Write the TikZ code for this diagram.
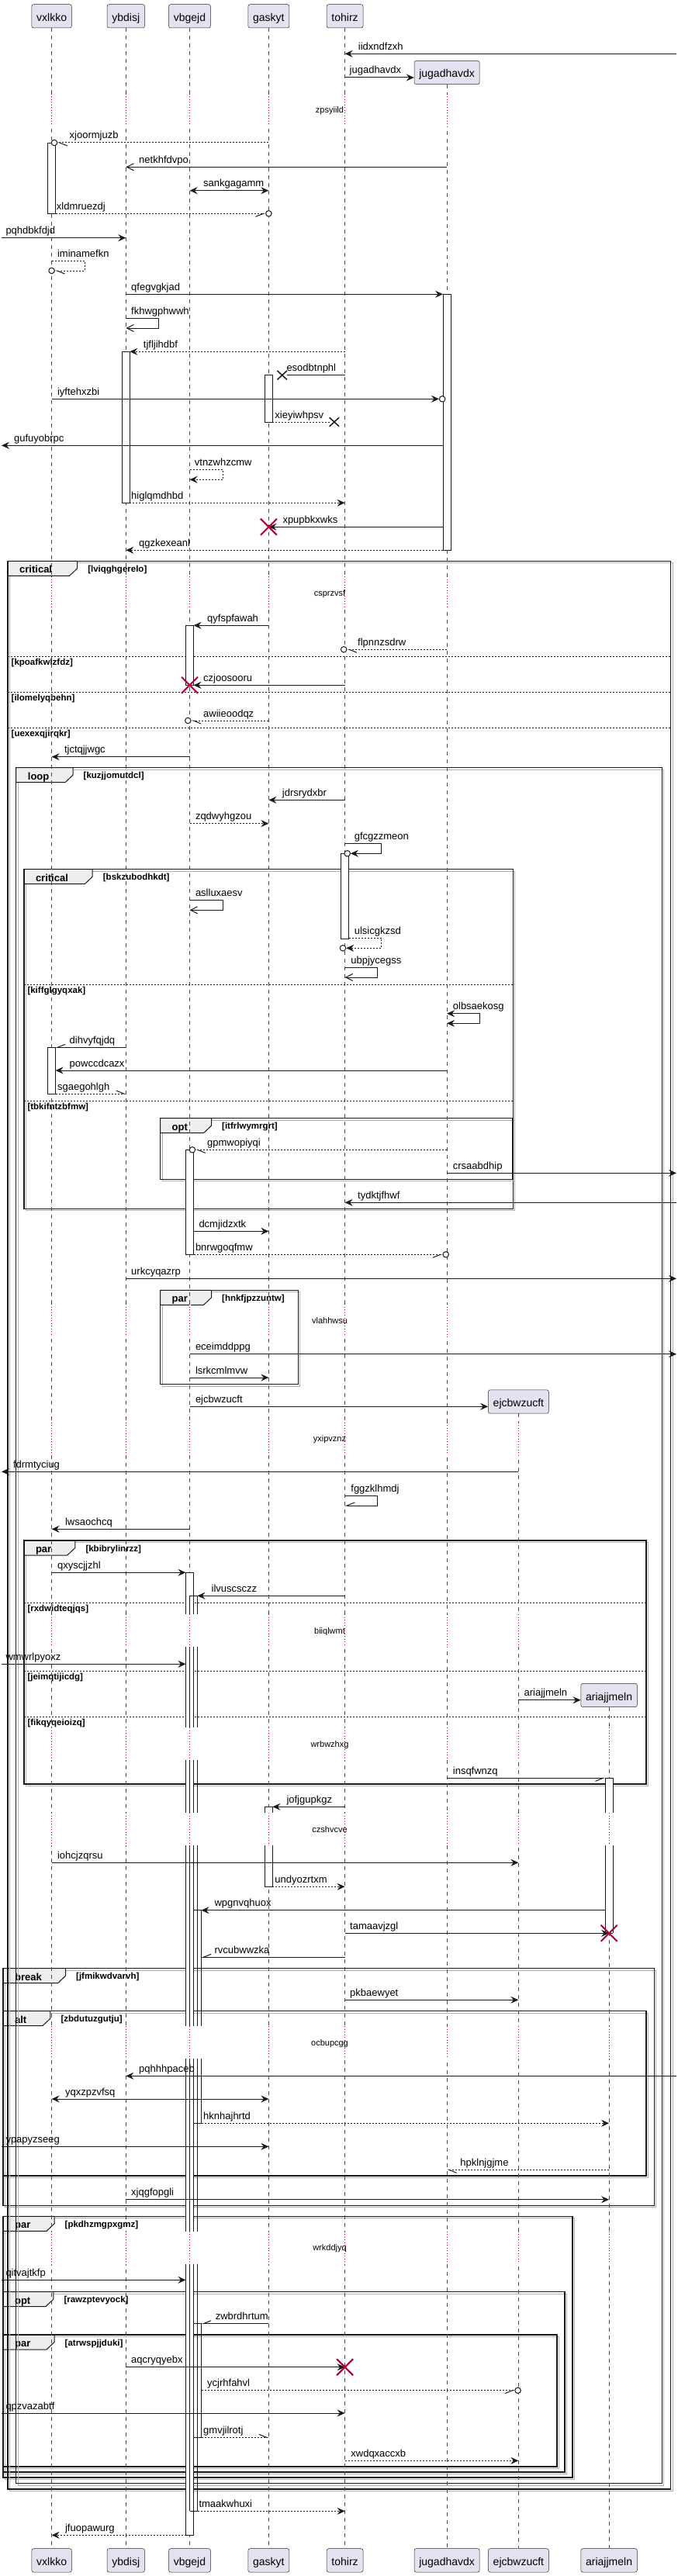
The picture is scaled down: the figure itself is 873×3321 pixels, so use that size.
\documentclass[tikz,border=0pt]{standalone}
\usepackage{fontspec}
\setmainfont{Liberation Sans}
\usetikzlibrary{positioning, calc, arrows.meta, shapes.misc}
\definecolor{partfill}{RGB}{226,226,240}
\definecolor{delayred}{RGB}{168,0,54}
\definecolor{tabfill}{RGB}{238,238,238}

\newcommand\seqmsg[6][]{%
  \draw[msgl,#1] (#2 |- 0,#4) -- (#3 |- 0,#4);
  \node[lbl] (t-#6) at (#5,#4-5) {#6};}
\newcommand\seqgroup[8]{%
  \draw[gshad] (#1+2.5,#2+2.5) rectangle (#3+2.5,#4+2.5);
  \filldraw[gtab] (#1,#2) -- (#5,#2) -- (#5,#2+9.5) -- (#5-10,#2+19) -- (#1,#2+19) -- cycle;
  \draw[gbox] (#1,#2) rectangle (#3,#4);
  \node[gkey] (#8) at (#1+15,#2+15.5) {#6};
  \node[gcond] (#8c) at (#5+13.5,#2+14) {[#7]};}
\newcommand\seqsep[5]{%
  \draw[gsepl] (#1,#3) -- (#2,#3);
  \node[gcond] (#5) at (#1+4.5,#3+11) {[#4]};}

\begin{document}
\begin{tikzpicture}[x=1pt, y=-1pt,
  part/.style={draw=black!85, fill=partfill, rounded corners=2.5pt, line width=0.5pt,
    minimum height=30.3pt, inner xsep=6.3pt, text height=14pt, text depth=1pt,
    font=\fontsize{14}{16}\selectfont},
  life/.style={black!70, line width=0.6pt, dash pattern=on 5pt off 5pt},
  dline/.style={delayred, line width=1pt, dash pattern=on 1pt off 2.5pt},
  act/.style={draw=black!90, fill=white, line width=0.8pt},
  actl/.style={black!90, line width=0.8pt},
  msgl/.style={black!90, line width=1pt},
  dmsg/.style={dash pattern=on 2pt off 2pt},
  fh/.style={-{Stealth[length=10pt,width=9pt,inset=3.5pt]}},
  fhb/.style={{Stealth[length=10pt,width=9pt,inset=3.5pt]}-{Stealth[length=10pt,width=9pt,inset=3.5pt]}},
  oh/.style={-{Straight Barb[length=9pt,width=9pt]}},
  hl/.style={-{Straight Barb[left,length=10pt,width=8pt]}},
  hr/.style={-{Straight Barb[right,length=10pt,width=8pt]}},
  lbl/.style={anchor=base west, inner sep=0pt, font=\fontsize{13}{15}\selectfont},
  dtext/.style={inner sep=0pt, text height=8pt, text depth=2pt, font=\fontsize{11}{13}\selectfont},
  circ/.style={circle, draw=black!90, fill=white, line width=1pt, minimum size=7.5pt, inner sep=0pt},
  lost/.style={cross out, draw=black!90, line width=1.5pt, minimum width=11pt, minimum height=10pt, inner sep=0pt},
  kill/.style={cross out, draw=delayred, line width=2pt, minimum size=19pt, inner sep=0pt},
  gbox/.style={black!90, line width=1.5pt},
  gshad/.style={black!30, line width=1pt},
  gtab/.style={draw=black!90, fill=tabfill, line width=1pt},
  gkey/.style={anchor=base west, inner sep=0pt, font=\bfseries\fontsize{13}{15}\selectfont},
  gcond/.style={anchor=base west, inner sep=0pt, font=\bfseries\fontsize{11.5}{13}\selectfont},
  gsepl/.style={black!90, line width=1pt, dash pattern=on 2pt off 2pt}]
\useasboundingbox (0,0) rectangle (873,3321);

% groups
\seqgroup{3.9}{2537.7}{843.3}{2843.3}{84.5}{break}{jfmikwdvarvh}{g-break}
\seqgroup{3.9}{2592.7}{833.2}{2805}{64.9}{alt}{zbdutuzgutju}{g-alt}
\seqgroup{3.9}{2857.3}{738.1}{3194}{70}{par}{pkdhzmgpxgmz}{g-par3}
\seqgroup{3.9}{2954.7}{728}{3187}{68.8}{opt}{rawzptevyock}{g-opt2}
\seqgroup{3.9}{3010}{718}{3180}{70}{par}{atrwspjjduki}{g-par4}
\seqgroup{10}{723.3}{864.6}{3209}{99.6}{critical}{lviqghgerelo}{g-crit}
\seqsep{10}{864.6}{846.3}{kpoafkwlzfdz}{s-kpoafkwlzfdz}
\seqsep{10}{864.6}{892.3}{ilomelyqbehn}{s-ilomelyqbehn}
\seqsep{10}{864.6}{938.3}{uexexqjirqkr}{s-uexexqjirqkr}
\seqgroup{20.7}{989.7}{853.4}{3201.7}{94}{loop}{kuzjjomutdcl}{g-loop}
\seqgroup{30.8}{1120.7}{661.4}{1558.3}{119.2}{critical}{bskzubodhkdt}{g-crit2}
\seqsep{30.8}{661.4}{1269.3}{kiffglgyqxak}{s-kiffglgyqxak}
\seqsep{30.8}{661.4}{1419.3}{tbkifntzbfmw}{s-tbkifntzbfmw}
\seqgroup{206.5}{1441.7}{660.9}{1520.3}{272.5}{opt}{itfrlwymrgrt}{g-opt}
\seqgroup{206.5}{1663.3}{384.4}{1784.7}{272.5}{par}{hnkfjpzzuntw}{g-par}
\seqgroup{30.8}{1986}{833.2}{2300}{96.8}{par}{kbibrylinrzz}{g-par2}
\seqsep{30.8}{833.2}{2066.3}{rxdwidteqjqs}{s-rxdwidteqjqs}
\seqsep{30.8}{833.2}{2154.3}{jeimqtijicdg}{s-jeimqtijicdg}
\seqsep{30.8}{833.2}{2213.3}{fikqyqeioizq}{s-fikqyqeioizq}

% participants
\node[part] (vxlkko) at (66.6,20.85) {vxlkko};
\node[part] (ybdisj) at (162.3,20.85) {ybdisj};
\node[part] (vbgejd) at (244.5,20.85) {vbgejd};
\node[part] (gaskyt) at (346.4,20.85) {gaskyt};
\node[part] (tohirz) at (444.6,20.85) {tohirz};
\node[part] (jugadhavdx) at (576.1,93.5) {jugadhavdx};
\node[part] (ejcbwzucft) at (668.4,1807) {ejcbwzucft};
\node[part] (ariajjmeln) at (785.1,2185.5) {ariajjmeln};
\node[part] (vxlkko2) at (66.6,3300.85) {vxlkko};
\node[part] (ybdisj2) at (162.3,3300.85) {ybdisj};
\node[part] (vbgejd2) at (244.5,3300.85) {vbgejd};
\node[part] (gaskyt2) at (346.4,3300.85) {gaskyt};
\node[part] (tohirz2) at (444.6,3300.85) {tohirz};
\node[part] (jugadhavdx2) at (576.1,3300.85) {jugadhavdx};
\node[part] (ejcbwzucft2) at (668.4,3300.85) {ejcbwzucft};
\node[part] (ariajjmeln2) at (785.1,3300.85) {ariajjmeln};

\coordinate (lft) at (2,0);
\coordinate (rgt) at (872,0);
\coordinate (vxlkko-r) at (71.6,0);
\coordinate (ybdisj-r) at (167.3,0);
\coordinate (vbgejd-l) at (239.5,0);
\coordinate (vbgejd-r) at (249.5,0);
\coordinate (vbgejd-r2) at (254.5,0);
\coordinate (vbgejd-r3) at (259.5,0);
\coordinate (gaskyt-r) at (351.4,0);
\coordinate (tohirz-r) at (449.6,0);
\coordinate (jugadhavdx-l) at (571.1,0);
\coordinate (ariajjmeln-l) at (780.1,0);

% lifelines and delays
\foreach \p in {vxlkko,ybdisj,vbgejd,gaskyt,tohirz,jugadhavdx,ejcbwzucft,ariajjmeln}
  \draw[life] (\p.south) -- (\p2.north);
\foreach \d/\t/\ps in {
    120.7/zpsyiild/{vxlkko,ybdisj,vbgejd,gaskyt,tohirz,jugadhavdx},
    743/csprzvsf/{vxlkko,ybdisj,vbgejd,gaskyt,tohirz,jugadhavdx},
    1681.3/vlahhwsu/{vxlkko,ybdisj,vbgejd,gaskyt,tohirz,jugadhavdx},
    1833.7/yxipvznz/{vxlkko,ybdisj,vbgejd,gaskyt,tohirz,jugadhavdx,ejcbwzucft},
    2081.3/biiqlwmt/{vxlkko,ybdisj,vbgejd,gaskyt,tohirz,jugadhavdx,ejcbwzucft},
    2227.3/wrbwzhxg/{vxlkko,ybdisj,vbgejd,gaskyt,tohirz,jugadhavdx,ejcbwzucft,ariajjmeln},
    2337.3/czshvcve/{vxlkko,ybdisj,vbgejd,gaskyt,tohirz,jugadhavdx,ejcbwzucft,ariajjmeln},
    2612.3/ocbupcgg/{vxlkko,ybdisj,vbgejd,gaskyt,tohirz,jugadhavdx,ejcbwzucft,ariajjmeln},
    2876.5/wrkddjyq/{vxlkko,ybdisj,vbgejd,gaskyt,tohirz,jugadhavdx,ejcbwzucft,ariajjmeln}} {
  \foreach \p in \ps {
    \draw[white, line width=2pt] (\p |- 0,\d) -- (\p |- 0,\d+42);
    \draw[dline] (\p |- 0,\d) -- (\p |- 0,\d+42);
  }
  \node[dtext] (d-\t) at (425,\d+22) {\t};
}

% activations
\filldraw[act] (61.6,184) rectangle (71.6,275.3);
\filldraw[act] (571.1,379.3) rectangle (581.1,709.3);
\filldraw[act] (157.3,453.3) rectangle (167.3,648.3);
\filldraw[act] (341.4,483.7) rectangle (351.4,544);
\filldraw[act] (239.5,806.3) rectangle (249.5,883.3);
\filldraw[act] (439.6,1100.3) rectangle (449.6,1210);
\filldraw[act] (61.6,1350.3) rectangle (71.6,1410);
\filldraw[act] (239.5,1482.3) rectangle (249.5,1617.3);
\foreach \a/\b in {2027.3/2081.3, 2123.3/2227.3, 2269.3/2337.3, 2379.3/2612.3, 2654.3/2876.5, 2918.5/3268.3}
  \fill[white] (239.5,\a) rectangle (249.5,\b);
\fill[white] (341.4,2329.3) rectangle (351.4,2337.3) (341.4,2379.3) rectangle (351.4,2432.3);
\fill[white] (780.1,2292.3) rectangle (790.1,2337.3) (780.1,2379.3) rectangle (790.1,2492.3);
\foreach \a/\b in {2027.3/2081.3, 2123.3/2227.3, 2269.3/2337.3, 2379.3/2612.3, 2654.3/2876.5, 2918.5/3268.3}
  \draw[actl] (239.5,\a) -- (239.5,\b) (249.5,\a) -- (249.5,\b);
\foreach \a/\b in {2057.3/2081.3, 2123.3/2227.3, 2269.3/2337.3, 2379.3/2612.3, 2654.3/2876.5, 2918.5/3237.3}
  \draw[actl] (244.5,\a) -- (244.5,\b) (254.5,\a) -- (254.5,\b);
\foreach \a/\b in {2462.7/2612.3, 2654.3/2737.3, 2995.7/3142.3}
  \draw[actl] (249.5,\a) -- (249.5,\b) (259.5,\a) -- (259.5,\b);
\foreach \a/\b in {2329.3/2337.3, 2379.3/2432.3}
  \draw[actl] (341.4,\a) -- (341.4,\b) (351.4,\a) -- (351.4,\b);
\foreach \a/\b in {2292.3/2337.3, 2379.3/2492.3}
  \draw[actl] (780.1,\a) -- (780.1,\b) (790.1,\a) -- (790.1,\b);
\draw[actl] (239.5,2027.3) -- (249.5,2027.3) (239.5,3268.3) -- (249.5,3268.3)
  (244.5,2057.3) -- (254.5,2057.3) (244.5,3237.3) -- (254.5,3237.3)
  (249.5,2462.7) -- (259.5,2462.7) (249.5,2737.3) -- (259.5,2737.3)
  (249.5,2995.7) -- (259.5,2995.7) (249.5,3142.3) -- (259.5,3142.3)
  (341.4,2329.3) -- (351.4,2329.3) (341.4,2432.3) -- (351.4,2432.3)
  (780.1,2292.3) -- (790.1,2292.3) (780.1,2492.3) -- (790.1,2492.3);

% circle and cross ends
\node[circ] (o-xjoormjuzb) at (70,184) {};
\node[circ] (o-xldmruezdj) at (346.4,275.3) {};
\node[circ] (o-iminamefkn) at (66.6,349) {};
\node[circ] (o-iyftehxzbi) at (570.2,514.3) {};
\node[circ] (o-flpnnzsdrw) at (443.2,837.3) {};
\node[circ] (o-awiieoodqz) at (242.3,929) {};
\node[circ] (o-gfcgzzmeon) at (447.7,1100.3) {};
\node[circ] (o-ulsicgkzsd) at (442,1222.3) {};
\node[circ] (o-gpmwopiyqi) at (247.9,1482.3) {};
\node[circ] (o-bnrwgoqfmw) at (574.7,1617.3) {};
\node[circ] (o-ycjrhfahvl) at (667.6,3081.7) {};
\node[lost] (x-esodbtnphl) at (363.7,483.7) {};
\node[lost] (x-xieyiwhpsv) at (430.9,544) {};

% messages
\seqmsg[fh]{rgt}{tohirz}{69.3}{461.7}{iidxndfzxh}
\seqmsg[fh]{tohirz}{jugadhavdx.west}{100}{450.5}{jugadhavdx}
\draw[msgl,dmsg,hl] (gaskyt |- o-xjoormjuzb) -- (o-xjoormjuzb);
\node[lbl] (t-xjoormjuzb) at (89.5,179) {xjoormjuzb};
\seqmsg[oh]{jugadhavdx}{ybdisj}{215.3}{179}{netkhfdvpo}
\seqmsg[fhb]{vbgejd}{gaskyt}{245.7}{262}{sankgagamm}
\draw[msgl,dmsg,hr] (vxlkko-r |- o-xldmruezdj) -- (o-xldmruezdj);
\node[lbl] (t-xldmruezdj) at (72.7,270.3) {xldmruezdj};
\seqmsg[fh]{lft}{ybdisj}{306.7}{7.3}{pqhdbkfdjd}
\draw[msgl,dmsg,hl] (vxlkko |- 0,336.3) -| (109,349) -- (o-iminamefkn);
\node[lbl] (t-iminamefkn) at (73.9,331.3) {iminamefkn};
\seqmsg[fh]{ybdisj}{jugadhavdx-l}{379.3}{169}{qfegvgkjad}
\draw[msgl,oh] (ybdisj |- 0,410.3) -| (204.8,423) -- (ybdisj |- 0,423);
\node[lbl] (t-fkhwgphwwh) at (169,405.3) {fkhwgphwwh};
\seqmsg[dmsg,fh]{tohirz}{ybdisj-r}{453.3}{184.7}{tjfljihdbf}
\draw[msgl] (tohirz |- x-esodbtnphl) -- (x-esodbtnphl);
\node[lbl] (t-esodbtnphl) at (369.3,478.7) {esodbtnphl};
\draw[msgl,fh] (vxlkko |- o-iyftehxzbi) -- (o-iyftehxzbi);
\node[lbl] (t-iyftehxzbi) at (73.9,509.3) {iyftehxzbi};
\draw[msgl,dmsg] (gaskyt-r |- x-xieyiwhpsv) -- (x-xieyiwhpsv);
\node[lbl] (t-xieyiwhpsv) at (354.2,539) {xieyiwhpsv};
\seqmsg[fh]{jugadhavdx-l}{lft}{574.3}{17.9}{gufuyobrpc}
\draw[msgl,dmsg,fh] (vbgejd |- 0,605.3) -| (287,618.3) -- (vbgejd |- 0,618.3);
\node[lbl] (t-vtnzwhzcmw) at (250.7,600.3) {vtnzwhzcmw};
\seqmsg[dmsg,fh]{ybdisj-r}{tohirz}{648.3}{169}{higlqmdhbd}
\seqmsg[fh]{jugadhavdx-l}{gaskyt}{679.3}{364.3}{xpupbkxwks}
\node[kill] (k-xpupbkxwks) at (gaskyt |- 0,679.3) {};
\seqmsg[dmsg,fh]{jugadhavdx-l}{ybdisj}{709.3}{179}{qgzkexeanl}
\seqmsg[fh]{gaskyt}{vbgejd-r}{806.3}{267}{qyfspfawah}
\draw[msgl,dmsg,hl] (jugadhavdx |- o-flpnnzsdrw) -- (o-flpnnzsdrw);
\node[lbl] (t-flpnnzsdrw) at (461,832.3) {flpnnzsdrw};
\seqmsg[fh]{tohirz}{vbgejd-r}{883.3}{262}{czjoosooru}
\node[kill] (k-czjoosooru) at (vbgejd |- 0,883.3) {};
\draw[msgl,dmsg,hl] (gaskyt |- o-awiieoodqz) -- (o-awiieoodqz);
\node[lbl] (t-awiieoodqz) at (262,924) {awiieoodqz};
\seqmsg[fh]{vbgejd}{vxlkko}{975.7}{82.8}{tjctqjjwgc}
\seqmsg[fh]{tohirz}{gaskyt}{1031.3}{363.7}{jdrsrydxbr}
\seqmsg[dmsg,fh]{vbgejd}{gaskyt}{1061.7}{251.8}{zqdwyhgzou}
\draw[msgl,fh] (tohirz |- 0,1087.7) -| (491.9,1100.3) -- (o-gfcgzzmeon);
\node[lbl] (t-gfcgzzmeon) at (456.6,1082.7) {gfcgzzmeon};
\draw[msgl,oh] (vbgejd |- 0,1160.7) -| (287,1173.3) -- (vbgejd |- 0,1173.3);
\node[lbl] (t-aslluxaesv) at (251.8,1155.7) {aslluxaesv};
\draw[msgl,dmsg,fh] (tohirz-r |- 0,1209.3) -| (491.9,1222.3) -- (o-ulsicgkzsd);
\node[lbl] (t-ulsicgkzsd) at (456.6,1204.3) {ulsicgkzsd};
\draw[msgl,oh] (tohirz |- 0,1247.3) -| (486.8,1260) -- (tohirz |- 0,1260);
\node[lbl] (t-ubpjycegss) at (452.2,1242.3) {ubpjycegss};
\draw[msgl,fhb] (jugadhavdx |- 0,1306.7) -| (618.4,1319.3) -- (jugadhavdx |- 0,1319.3);
\node[lbl] (t-olbsaekosg) at (583.7,1301.7) {olbsaekosg};
\seqmsg[hr]{ybdisj}{vxlkko-r}{1350.3}{89.5}{dihvyfqjdq}
\seqmsg[fh]{jugadhavdx}{vxlkko-r}{1380}{89.5}{powccdcazx}
\seqmsg[dmsg,hl]{vxlkko-r}{ybdisj}{1410}{73.9}{sgaegohlgh}
\draw[msgl,dmsg,hl] (jugadhavdx |- o-gpmwopiyqi) -- (o-gpmwopiyqi);
\node[lbl] (t-gpmwopiyqi) at (267,1477.3) {gpmwopiyqi};
\seqmsg[fh]{jugadhavdx}{rgt}{1512.3}{583.7}{crsaabdhip}
\seqmsg[fh]{rgt}{tohirz}{1550.3}{461}{tydktjfhwf}
\seqmsg[fh]{vbgejd-r}{gaskyt}{1587.3}{256.3}{dcmjidzxtk}
\draw[msgl,dmsg,hr] (vbgejd-r |- o-bnrwgoqfmw) -- (o-bnrwgoqfmw);
\node[lbl] (t-bnrwgoqfmw) at (251.8,1612.3) {bnrwgoqfmw};
\seqmsg[fh]{ybdisj}{rgt}{1648.3}{169}{urkcyqazrp}
\seqmsg[fh]{vbgejd}{rgt}{1745.7}{251.8}{eceimddppg}
\seqmsg[fh]{vbgejd}{gaskyt}{1776}{251.8}{lsrkcmlmvw}
\seqmsg[fh]{vbgejd}{ejcbwzucft.west}{1813.3}{251.8}{ejcbwzucft}
\seqmsg[fh]{ejcbwzucft}{lft}{1897.3}{16.8}{fdrmtyciug}
\draw[msgl,hr] (tohirz |- 0,1928.3) -| (486.8,1941) -- (tohirz |- 0,1941);
\node[lbl] (t-fggzklhmdj) at (452.2,1923.3) {fggzklhmdj};
\seqmsg[fh]{vbgejd}{vxlkko}{1971.3}{83.9}{lwsaochcq}
\seqmsg[fh]{vxlkko}{vbgejd-l}{2027.3}{73.9}{qxyscjjzhl}
\seqmsg[fh]{tohirz}{vbgejd-r2}{2057.3}{272.5}{ilvuscsczz}
\seqmsg[fh]{lft}{vbgejd-l}{2145.3}{7.3}{wmwrlpyoxz}
\seqmsg[fh]{ejcbwzucft}{ariajjmeln.west}{2191.7}{675.4}{ariajjmeln}
\seqmsg[hr]{jugadhavdx}{ariajjmeln-l}{2292.3}{583.7}{insqfwnzq}
\seqmsg[fh]{tohirz}{gaskyt-r}{2329.3}{369.3}{jofjgupkgz}
\seqmsg[fh]{vxlkko}{ejcbwzucft}{2401.3}{73.9}{iohcjzqrsu}
\seqmsg[dmsg,fh]{gaskyt-r}{tohirz}{2432.3}{354.2}{undyozrtxm}
\seqmsg[fh]{ariajjmeln-l}{vbgejd-r3}{2462.7}{276.4}{wpgnvqhuox}
\seqmsg[fh]{tohirz}{ariajjmeln}{2492.3}{451}{tamaavjzgl}
\node[kill] (k-tamaavjzgl) at (ariajjmeln |- 0,2492.3) {};
\seqmsg[hr]{tohirz}{vbgejd-r3}{2523.3}{276.4}{rvcubwwzka}
\seqmsg[fh]{tohirz}{ejcbwzucft}{2578.3}{451}{pkbaewyet}
\seqmsg[fh]{rgt}{ybdisj}{2676.3}{179}{pqhhhpaceb}
\seqmsg[fhb]{vxlkko}{gaskyt}{2706}{83.9}{yqxzpzvfsq}
\seqmsg[dmsg,fh]{vbgejd-r3}{ariajjmeln}{2737.3}{262}{hknhajhrtd}
\seqmsg[fh]{lft}{gaskyt}{2767.3}{7.3}{ypapyzseeg}
\seqmsg[dmsg,hl]{ariajjmeln}{jugadhavdx}{2797.3}{593.2}{hpklnjgjme}
\seqmsg[fh]{ybdisj}{ariajjmeln}{2835.7}{169}{xjqgfopgli}
\seqmsg[fh]{lft}{vbgejd-l}{2939.3}{7.3}{qitvajtkfp}
\seqmsg[hr]{gaskyt}{vbgejd-r3}{2995.7}{277.6}{zwbrdhrtum}
\seqmsg[fh]{ybdisj}{tohirz}{3051.7}{169}{aqcryqyebx}
\node[kill] (k-aqcryqyebx) at (tohirz |- 0,3051.7) {};
\draw[msgl,dmsg,hr] (vbgejd-r3 |- o-ycjrhfahvl) -- (o-ycjrhfahvl);
\node[lbl] (t-ycjrhfahvl) at (267,3076.7) {ycjrhfahvl};
\seqmsg[fh]{lft}{tohirz}{3111}{7.3}{qpzvazabtf}
\seqmsg[dmsg,hl]{vbgejd-r3}{gaskyt}{3142.3}{262}{gmvjilrotj}
\seqmsg[dmsg,fh]{tohirz}{ejcbwzucft}{3172.3}{452.2}{xwdqxaccxb}
\seqmsg[dmsg,fh]{vbgejd-r2}{tohirz}{3237.3}{256.3}{tmaakwhuxi}
\seqmsg[dmsg,fh]{vbgejd-l}{vxlkko}{3268.3}{83.9}{jfuopawurg}
\end{tikzpicture}
\end{document}
